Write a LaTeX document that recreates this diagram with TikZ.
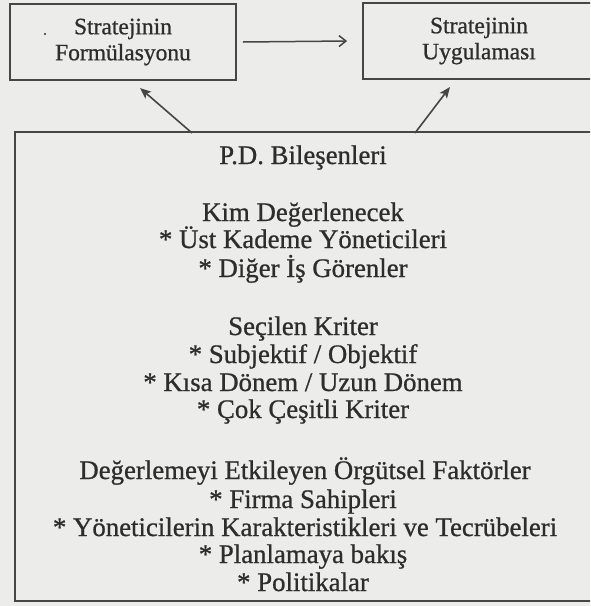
\documentclass[tikz,border=0pt]{standalone}
\usepackage{fontspec}
\setmainfont{Liberation Serif}
\newfontfamily\inkfont{Liberation Serif}[FakeBold=0.8]
\usetikzlibrary{arrows.meta}
\definecolor{paper}{RGB}{236,236,235}
\definecolor{ink}{RGB}{45,45,45}
\definecolor{rule}{RGB}{70,70,70}
\tikzset{
  boxstyle/.style={draw=rule, line width=1.7pt, rectangle, inner sep=0pt},
  topbox/.style={boxstyle, minimum width=226pt, minimum height=76pt, align=center, text=ink,
     font=\inkfont\fontsize{23.5}{26}\selectfont},
  linetext/.style={anchor=base, text=ink, inner sep=0pt, font=\inkfont\fontsize{26.8}{28}\selectfont},
  arr/.style={draw=rule, line width=1.5pt, -{Straight Barb[length=7pt,width=11pt,line width=1.5pt]}},
  darr/.style={draw=rule, line width=1.6pt, -{Stealth[length=11pt,width=9pt,inset=2.5pt]}},
}
\begin{document}
\begin{tikzpicture}[x=1pt,y=-1pt]
\clip (0,0) rectangle (590,606);
\fill[paper] (0,0) rectangle (590,606);
% top boxes
\node[topbox] (form) at (123,42) {Stratejinin\\Formülasyonu};
\node[topbox, minimum width=232pt] (uyg) at (479,41) {Stratejinin\\Uygulaması};
\fill[ink] (45,34) circle (1.1pt);
% big box
\node[boxstyle, minimum width=580pt, minimum height=469pt] (big) at (305,366.5) {};
% texts
\node[linetext] (t1) at (303,164) {P.D. Bileşenleri};
\node[linetext] (t2) at (303,221) {Kim Değerlenecek};
\node[linetext] (t3) at (303,248) {* Üst Kademe Yöneticileri};
\node[linetext] (t4) at (303,277) {* Diğer İş Görenler};
\node[linetext] (t5) at (303,335) {Seçilen Kriter};
\node[linetext] (t6) at (303,363) {* Subjektif / Objektif};
\node[linetext] (t7) at (303,391) {* Kısa Dönem / Uzun Dönem};
\node[linetext] (t8) at (303,418) {* Çok Çeşitli Kriter};
\node[linetext] (t9) at (305,479) {Değerlemeyi Etkileyen Örgütsel Faktörler};
\node[linetext] (t10) at (303,508) {* Firma Sahipleri};
\node[linetext] (t11) at (305,536) {* Yöneticilerin Karakteristikleri ve Tecrübeleri};
\node[linetext] (t12) at (303,563) {* Planlamaya bakış};
\node[linetext] (t13) at (303,591) {* Politikalar};
% connectors
\coordinate (h1) at ([xshift=6pt]form.east);
\coordinate (h2) at ([xshift=-15pt]uyg.west);
\draw[arr] (h1) -- (h2);
\coordinate (d1s) at (192,133);
\coordinate (d1e) at (140,88);
\coordinate (d2s) at (415,133);
\coordinate (d2e) at (450,87);
\draw[darr] (d1s) -- (d1e);
\draw[darr] (d2s) -- (d2e);
\end{tikzpicture}
\end{document}
